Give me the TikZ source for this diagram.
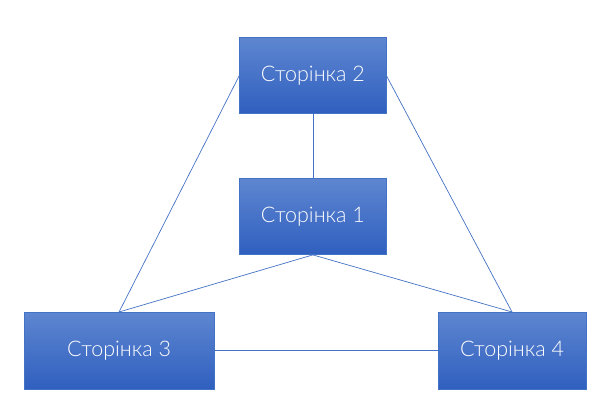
\documentclass[tikz,border=0pt]{standalone}
\usepackage{fontspec}
\setmainfont{Lato}[UprightFont={* Light}]
\definecolor{linec}{HTML}{4472C4}
\definecolor{topc}{HTML}{5E86D0}
\definecolor{botc}{HTML}{2F5FBF}
\begin{document}
\begin{tikzpicture}[x=1pt,y=-1pt,
  page/.style={rectangle, draw=linec, line width=0.6pt, top color=topc, bottom color=botc,
    text=white, font=\fontsize{21.5}{25}\selectfont, inner sep=0pt, anchor=north west},
  link/.style={draw=linec, line width=0.7pt}]
\useasboundingbox (0,0) rectangle (602,409);
\node[page, minimum width=146.5pt, minimum height=76pt] (p2) at (239.3,37.3) {Сторінка 2};
\node[page, minimum width=146.5pt, minimum height=76pt] (p1) at (239.3,178.3) {Сторінка 1};
\node[page, minimum width=189.5pt, minimum height=77pt] (p3) at (24,312) {Сторінка 3};
\node[page, minimum width=148pt, minimum height=77pt] (p4) at (437.7,312) {Сторінка 4};
\draw[link] (p2.south) -- (p1.north);
\draw[link] (p2.west) -- (p3.north);
\draw[link] (p2.east) -- (p4.north);
\draw[link] (p1.south) -- (p3.north);
\draw[link] (p1.south) -- (p4.north);
\draw[link] (p3.east) -- (p4.west);
\end{tikzpicture}
\end{document}
